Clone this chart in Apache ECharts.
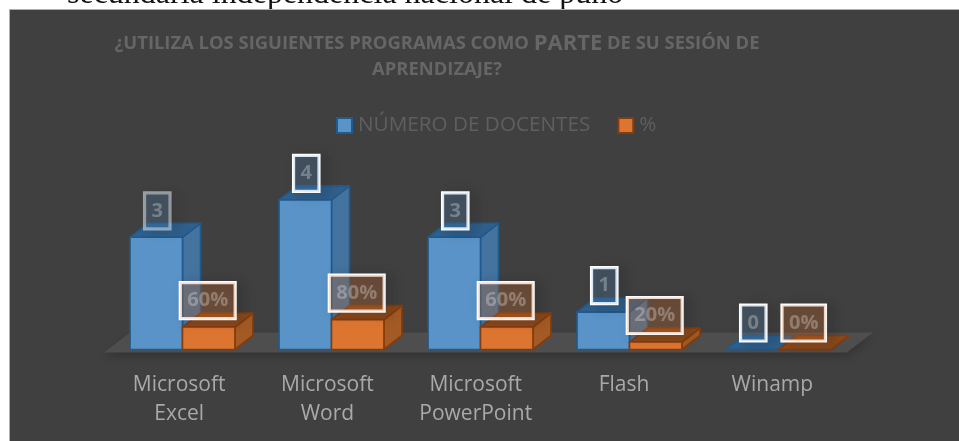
<!DOCTYPE html>
<html>
<head>
<meta charset="utf-8">
<style>
  html, body { margin: 0; padding: 0; background: #fff; }
  #chart { width: 959px; height: 441px; }
</style>
<script src="https://cdn.jsdelivr.net/npm/echarts@6/dist/echarts.min.js"></script>
</head>
<body>
<div id="chart"></div>
<script>
const categories = ['Microsoft\nExcel', 'Microsoft\nWord', 'Microsoft\nPowerPoint', 'Flash', 'Winamp']
const docentes = [3, 4, 3, 1, 0]
const porcentaje = [0.6, 0.8, 0.6, 0.2, 0] // same axis as docentes, label shows it as %
const serieDocentes = 'NÚMERO DE DOCENTES'
const seriePorcentaje = '%'

const DEPTH_X = 18
const DEPTH_Y = 14
const FONT = '"Open Sans", sans-serif'

const blue = { front: '#5a93c8', side: '#44739f', top: '#2f5f8c', line: '#215a8c', box: 'rgba(91,155,213,0.22)' }
const orange = { front: '#dc7530', side: '#a35a24', top: '#8a4a1e', line: '#843c0c', box: 'rgba(237,125,49,0.25)' }

function poly(points, fill, stroke) {
  return { type: 'polygon', shape: { points }, style: { fill, stroke, lineWidth: 1.6, lineJoin: 'round' } }
}

// draws one fake 3d box with its label above it
function boxRenderer(colors, side, labelOf) {
  return function (params, api) {
    const band = api.size([1, 0])[0]
    const w = band * 0.352
    const base = api.coord([api.value(0), 0])
    const top = api.coord([api.value(0), api.value(1)])
    const x0 = side < 0 ? base[0] - w : base[0]
    const x1 = x0 + w
    const y0 = top[1]
    const y1 = base[1]
    const dx = DEPTH_X
    const dy = DEPTH_Y
    const label = labelOf(api.value(1))
    // the first label is a bit faded in the original
    const faded = side < 0 && params.dataIndex === 0
    return {
      type: 'group',
      children: [
        poly([[x1, y0], [x1 + dx, y0 - dy], [x1 + dx, y1 - dy], [x1, y1]], colors.side, colors.line),
        poly([[x0, y0], [x0 + dx, y0 - dy], [x1 + dx, y0 - dy], [x1, y0]], colors.top, colors.line),
        poly([[x0, y0], [x1, y0], [x1, y1], [x0, y1]], colors.front, colors.line),
        {
          type: 'text',
          style: {
            text: label,
            x: (x0 + x1) / 2 + (side < 0 ? 1 : -1),
            y: y0 - 8.5,
            align: 'center',
            verticalAlign: 'bottom',
            font: 'bold 20px ' + FONT,
            fill: 'rgba(255,255,255,0.28)',
            backgroundColor: colors.box,
            borderColor: faded ? 'rgba(255,255,255,0.5)' : '#fff',
            borderWidth: 1.6,
            padding: [8, 7, 8, 7],
            shadowColor: 'rgba(0,0,0,0.25)',
            shadowBlur: 12,
            shadowOffsetX: 6,
            shadowOffsetY: 2
          }
        }
      ]
    }
  }
}

function floorRenderer(params) {
  const c = params.coordSys
  const bottom = c.y + c.height + 3
  const back = bottom - 20
  return {
    type: 'polygon',
    shape: { points: [[c.x - 4, bottom], [c.x + 22, back], [c.x + c.width + 20, back], [c.x + c.width - 6, bottom]] },
    style: { fill: '#4f4e4e', shadowColor: 'rgba(0,0,0,0.2)', shadowBlur: 8, shadowOffsetY: 4 }
  }
}

const chart = echarts.init(document.getElementById('chart'))
chart.setOption({
  animation: false,
  backgroundColor: '#fff',
  graphic: [
    // line of the document page behind the chart, cut by the chart panel
    {
      type: 'text', z: 0, x: 67, y: 11,
      style: { text: 'secundaria independencia nacional de puno', font: '32px "Liberation Serif", serif', fill: '#111', verticalAlign: 'bottom' }
    },
    {
      type: 'rect', z: 1,
      shape: { x: 9.5, y: 9.5, width: 960, height: 440 },
      style: { fill: '#404040', stroke: '#b0b0b0', lineWidth: 1 }
    }
  ],
  title: {
    left: 432,
    top: 26,
    textAlign: 'center',
    z: 5,
    text: '{a|¿UTILIZA LOS SIGUIENTES PROGRAMAS COMO }{b|PARTE}{a| DE SU SESIÓN DE}\n{a|APRENDIZAJE?}',
    textStyle: {
      lineHeight: 26,
      rich: {
        a: { fontFamily: FONT, fontWeight: 'bold', fontSize: 18.4, color: '#666', lineHeight: 26 },
        b: { fontFamily: FONT, fontWeight: 'bold', fontSize: 22, color: '#666', lineHeight: 26 }
      }
    }
  },
  legend: {
    left: 336,
    top: 115,
    padding: 0,
    z: 5,
    itemWidth: 15,
    itemHeight: 15,
    itemGap: 27,
    icon: 'rect',
    data: [serieDocentes, seriePorcentaje],
    textStyle: { fontFamily: FONT, fontSize: 20.7, color: '#5f5f5f', padding: [0, 0, 0, 1] }
  },
  grid: [
    { left: 108, width: 745, top: 162.5, height: 187 },
    // labels sit on a slightly narrower band than the bars
    { left: 105, width: 741.5, top: 162.5, height: 187 }
  ],
  xAxis: [
    { type: 'category', gridIndex: 0, data: categories, axisLine: { show: false }, axisTick: { show: false }, axisLabel: { show: false } },
    {
      type: 'category', gridIndex: 1, data: categories, z: 5,
      axisLine: { show: false }, axisTick: { show: false },
      axisLabel: { interval: 0, margin: 21, fontFamily: FONT, fontSize: 21, color: '#a9a9a9', lineHeight: 29 }
    }
  ],
  yAxis: [
    { type: 'value', gridIndex: 0, min: 0, max: 5, show: false },
    { type: 'value', gridIndex: 1, min: 0, max: 5, show: false }
  ],
  series: [
    {
      type: 'custom', name: 'piso', coordinateSystem: 'cartesian2d', xAxisIndex: 0, yAxisIndex: 0, z: 2, silent: true,
      data: [[0, 0]],
      renderItem: floorRenderer
    },
    {
      type: 'custom', name: serieDocentes, coordinateSystem: 'cartesian2d', xAxisIndex: 0, yAxisIndex: 0, z: 3,
      itemStyle: { color: blue.front, borderColor: blue.line, borderWidth: 2 },
      data: docentes.map((v, i) => [i, v]),
      renderItem: boxRenderer(blue, -1, v => String(v))
    },
    {
      type: 'custom', name: seriePorcentaje, coordinateSystem: 'cartesian2d', xAxisIndex: 0, yAxisIndex: 0, z: 4,
      itemStyle: { color: orange.front, borderColor: orange.line, borderWidth: 2 },
      data: porcentaje.map((v, i) => [i, v]),
      renderItem: boxRenderer(orange, 1, v => Math.round(v * 100) + '%')
    },
    // keeps the label axis alive, draws nothing
    {
      type: 'line', name: 'etiquetas', xAxisIndex: 1, yAxisIndex: 1, silent: true,
      data: docentes, showSymbol: false, lineStyle: { opacity: 0 }, itemStyle: { opacity: 0 }
    }
  ]
})
</script>
</body>
</html>
